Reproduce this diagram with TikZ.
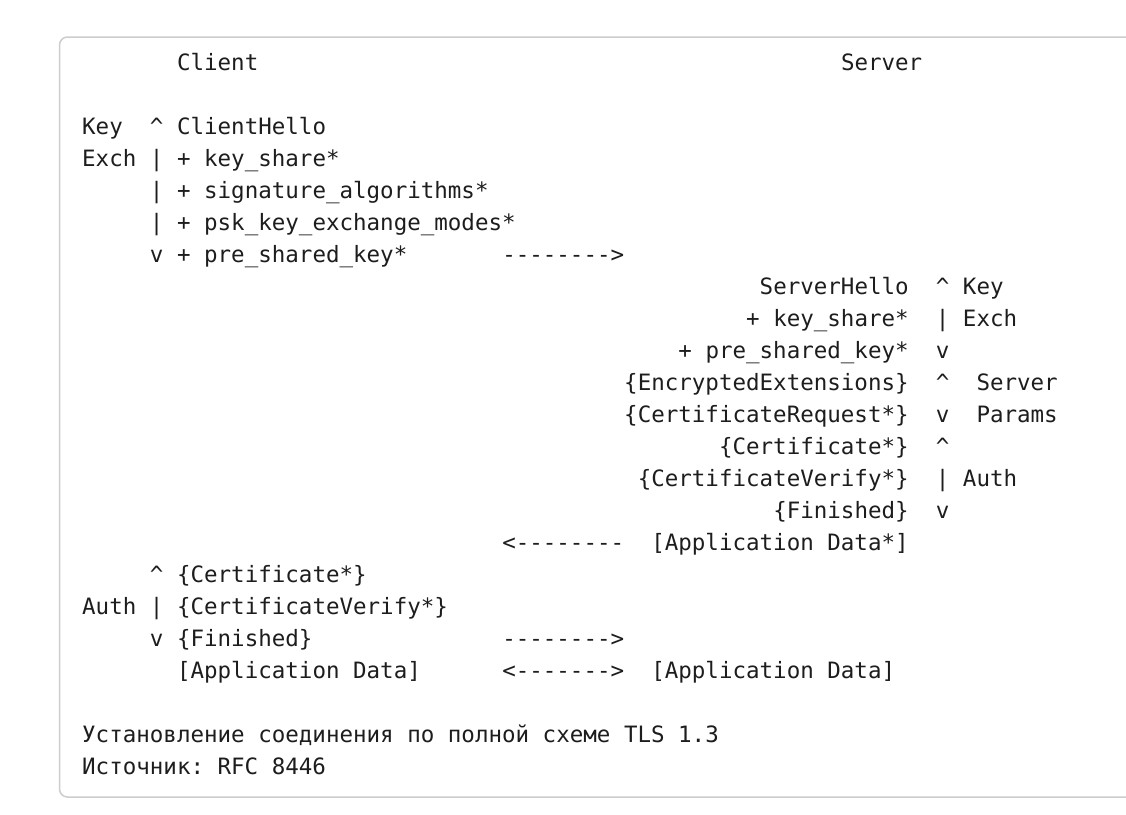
\documentclass[tikz,border=0pt]{standalone}
\usepackage{fontspec}
\setmonofont{DejaVu Sans Mono}
\definecolor{ink}{RGB}{29,29,31}
\definecolor{frame}{RGB}{205,205,205}
\begin{document}
\begin{tikzpicture}[x=1pt,y=-1pt,
    txt/.style={anchor=base west,inner sep=0pt,text=ink,font=\ttfamily\fontsize{22.5}{27}\selectfont}]
    \useasboundingbox (0,0) rectangle (1126,814) ;
    \fill [white] (0,0) rectangle (1126,814) ;
    \draw [frame,line width=1.5pt,rounded corners=8pt] (59.5,37) rectangle (1150,797) ;
    % one node per text chunk, at (column,row) of the listing
    \begin{scope}[shift={(82,70)},x=13.55pt,y=-32pt]
      \foreach \r/\c/\s in {0/7/Client, 0/56/Server,
          2/0/Key, 2/5/\textasciicircum, 2/7/ClientHello,
          3/0/Exch, 3/5/|, 3/7/+ key\_share*,
          4/5/|, 4/7/+ signature\_algorithms*,
          5/5/|, 5/7/+ psk\_key\_exchange\_modes*,
          6/5/v, 6/7/+ pre\_shared\_key*, 6/31/-------->,
          7/50/ServerHello, 7/63/\textasciicircum, 7/65/Key,
          8/49/+ key\_share*, 8/63/|, 8/65/Exch,
          9/44/+ pre\_shared\_key*, 9/63/v,
          10/40/\{EncryptedExtensions\}, 10/63/\textasciicircum, 10/66/Server,
          11/40/\{CertificateRequest*\}, 11/63/v, 11/66/Params,
          12/47/\{Certificate*\}, 12/63/\textasciicircum,
          13/41/\{CertificateVerify*\}, 13/63/|, 13/65/Auth,
          14/51/\{Finished\}, 14/63/v,
          15/31/<--------, 15/42/[Application Data*],
          16/5/\textasciicircum, 16/7/\{Certificate*\},
          17/0/Auth, 17/5/|, 17/7/\{CertificateVerify*\},
          18/5/v, 18/7/\{Finished\}, 18/31/-------->,
          19/7/[Application Data], 19/31/<------->, 19/42/[Application Data],
          21/0/Установление соединения по полной схеме TLS 1.3,
          22/0/Источник: RFC 8446} {
        \node [txt] (t-\r-\c) at (\c,\r) {\s} ;
      }
    \end{scope}
\end{tikzpicture}
\end{document}
